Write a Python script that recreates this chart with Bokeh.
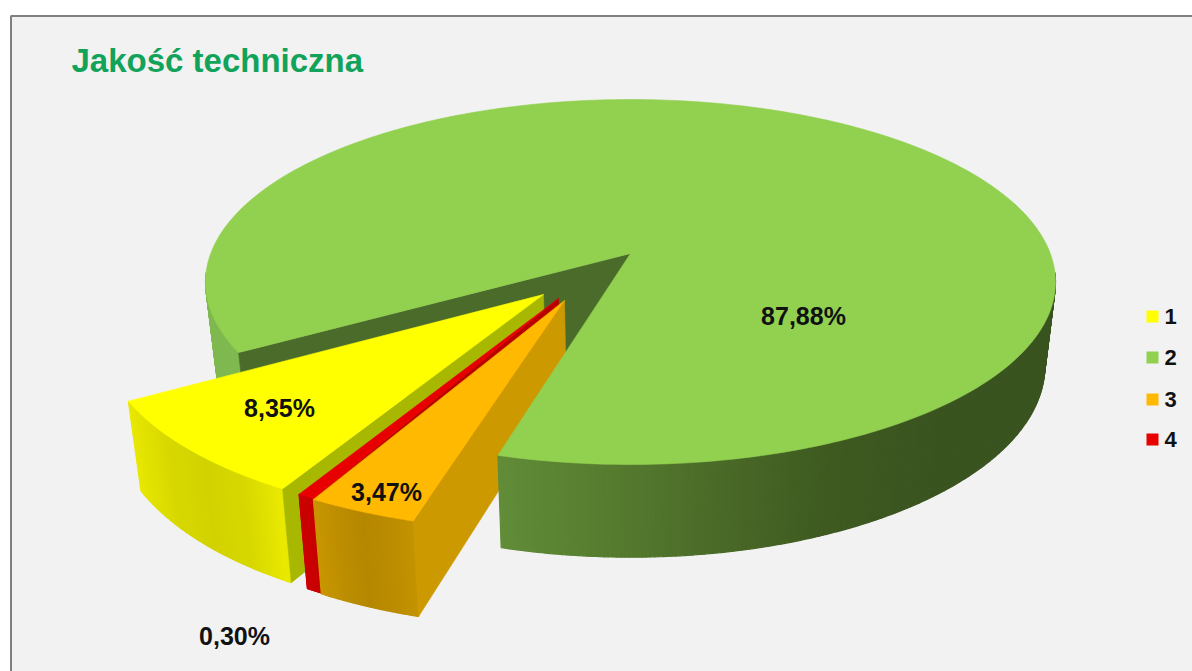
import math
from bokeh.plotting import figure
from bokeh.models import Range1d
from bokeh.embed import file_html
from bokeh.resources import INLINE
from bokeh.core.properties import value

# ---- data ----
title_text = "Jakość techniczna"
categories = ["1", "2", "3", "4"]
shares = [8.35, 87.88, 3.47, 0.30]
share_labels = ["8,35%", "87,88%", "3,47%", "0,30%"]

# ---- styling / layout ----
C_BG = "#f2f2f2"
TOP = {"1": "#ffff00", "2": "#92d050", "3": "#ffb900", "4": "#e80000"}
CUT = {"1": "#a8b800", "3": "#cc9900", "4": "#b80000"}
SIDE = {
    "1": ["#e8e800", "#d8d800", "#d2d200", "#d8d800", "#eaea00"],
    "3": ["#c99700", "#bd8e00", "#b58800", "#bb8c00", "#c49300"],
    "4": ["#cc0000", "#c80000"],
    "2": ["#618c38", "#567c2f", "#4a6a28", "#3e5a20", "#3a5420", "#3a5420"],
}
LEFT_SIDE = ["#7fb950", "#7fb950"]
DARK_CUT = "#4a6b2a"
MIN_SWEEP = 2.0

XC, YC, RX, RY, D = 630.0, 281.5, 425.0, 182.5, -28.5
CP = D / RY
K = RX * math.sqrt(1 - CP * CP)
START = 149.2
APEX = {"1": (543, 294), "3": (564, 300), "4": (558, 298)}
LABEL_POS = {"1": (279, 407), "2": (803, 315), "3": (386, 491), "4": (234, 635)}
LEG_Y = {"1": 316, "2": 357, "3": 399, "4": 439}


def project(u, v):
    w = 1 + CP * v
    return XC + K * u / w, YC + (RY * v + D) / w


def unproject(x, y):
    X, Y = x - XC, y - YC
    v = (Y - D) / (RY - CP * Y)
    return X * (1 + CP * v) / K, v


def lower(pt):
    x, y = pt
    return XC + (x - XC) * 0.975, y + 92 + (y - 450) * 0.05


def rim(cu, cv, a0, a1, n):
    return [project(cu + math.cos(math.radians(a0 + (a1 - a0) * i / n)),
                    cv + math.sin(math.radians(a0 + (a1 - a0) * i / n))) for i in range(n + 1)]


def lerp_col(stops, t):
    t = t * (len(stops) - 1)
    i = min(int(t), len(stops) - 2) if len(stops) > 1 else 0
    f = t - i
    a, b = stops[i], stops[i + 1]
    c = [round(int(a[j:j + 2], 16) * (1 - f) + int(b[j:j + 2], 16) * f) for j in (1, 3, 5)]
    return "#%02x%02x%02x" % tuple(c)


p = figure(width=1192, height=671, output_backend="svg", toolbar_location=None,
           x_range=Range1d(0, 1192), y_range=Range1d(671, 0), min_border=0,
           background_fill_color="#ffffff", border_fill_color="#ffffff", outline_line_color=None)
p.axis.visible = False
p.grid.visible = False


def poly(pts, color, lw=0.6):
    p.patch([q[0] for q in pts], [q[1] for q in pts], fill_color=color, line_color=color, line_width=lw)


def strips(arc, stops):
    xs, ys, cols = [], [], []
    lo = min(q[0] for q in arc)
    hi = max(q[0] for q in arc)
    for a, b in zip(arc[:-1], arc[1:]):
        la, lb = lower(a), lower(b)
        xs.append([a[0], b[0], lb[0], la[0]])
        ys.append([a[1], b[1], lb[1], la[1]])
        t = ((a[0] + b[0]) / 2 - lo) / max(hi - lo, 1)
        cols.append(lerp_col(stops, max(0.0, min(1.0, t))))
    p.patches(xs, ys, fill_color=cols, line_color=cols, line_width=1.2)


# frame
p.quad(left=[10.5], right=[1200], top=[15.5], bottom=[680], fill_color=C_BG, line_color="#808080", line_width=2)

# angles, clockwise on screen from the left edge of the gap
order = ["1", "4", "3"]
share = dict(zip(categories, shares))
ang = {}
a = START
for c in order:
    ang[c] = (a, a - share[c] * 3.6)
    a = ang[c][1]
gap_end = a

apex0 = project(0, 0)
corner_left = project(math.cos(math.radians(START)), math.sin(math.radians(START)))

# green: back faces
strips(rim(0, 0, START, 174, 40), LEFT_SIDE)
poly([apex0, corner_left, lower(corner_left), lower(apex0)], DARK_CUT)

# exploded slices
for c in order:
    cu, cv = unproject(*APEX[c])
    a0, a1 = ang[c]
    a1 = min(a1, a0 - MIN_SWEEP)  # the thinnest slice stays visible
    arc = rim(cu, cv, a0, a1, 60)
    ap = project(cu, cv)
    strips(arc, SIDE[c])
    end = arc[-1]
    poly([ap, end, lower(end), lower(ap)], CUT[c])
    poly([ap] + arc, TOP[c])

# green: outer side and top
strips(rim(0, 0, gap_end, 6, 200), SIDE["2"])
poly([apex0] + rim(0, 0, gap_end, START - 360, 300), TOP["2"])

# labels
for c, lab in zip(categories, share_labels):
    x, y = LABEL_POS[c]
    p.text([x], [y], text=[lab], text_font=value("Liberation Sans"), text_font_style="bold",
           text_font_size="25px", text_color="#111111", text_align="center", text_baseline="middle")

# title
p.text([71], [60], text=[title_text], text_font=value("Liberation Sans"), text_font_style="bold",
       text_font_size="33px", text_color="#12a35a", text_align="left", text_baseline="middle")

# legend
for c in categories:
    y = LEG_Y[c]
    p.quad(left=[1146], right=[1158], top=[y - 6], bottom=[y + 6], fill_color=TOP[c], line_color=None)
    p.text([1164], [y], text=[c], text_font=value("Liberation Sans"), text_font_style="bold",
           text_font_size="22px", text_color="#111111", text_align="left", text_baseline="middle")

open("out.html", "w").write(file_html(p, INLINE))
